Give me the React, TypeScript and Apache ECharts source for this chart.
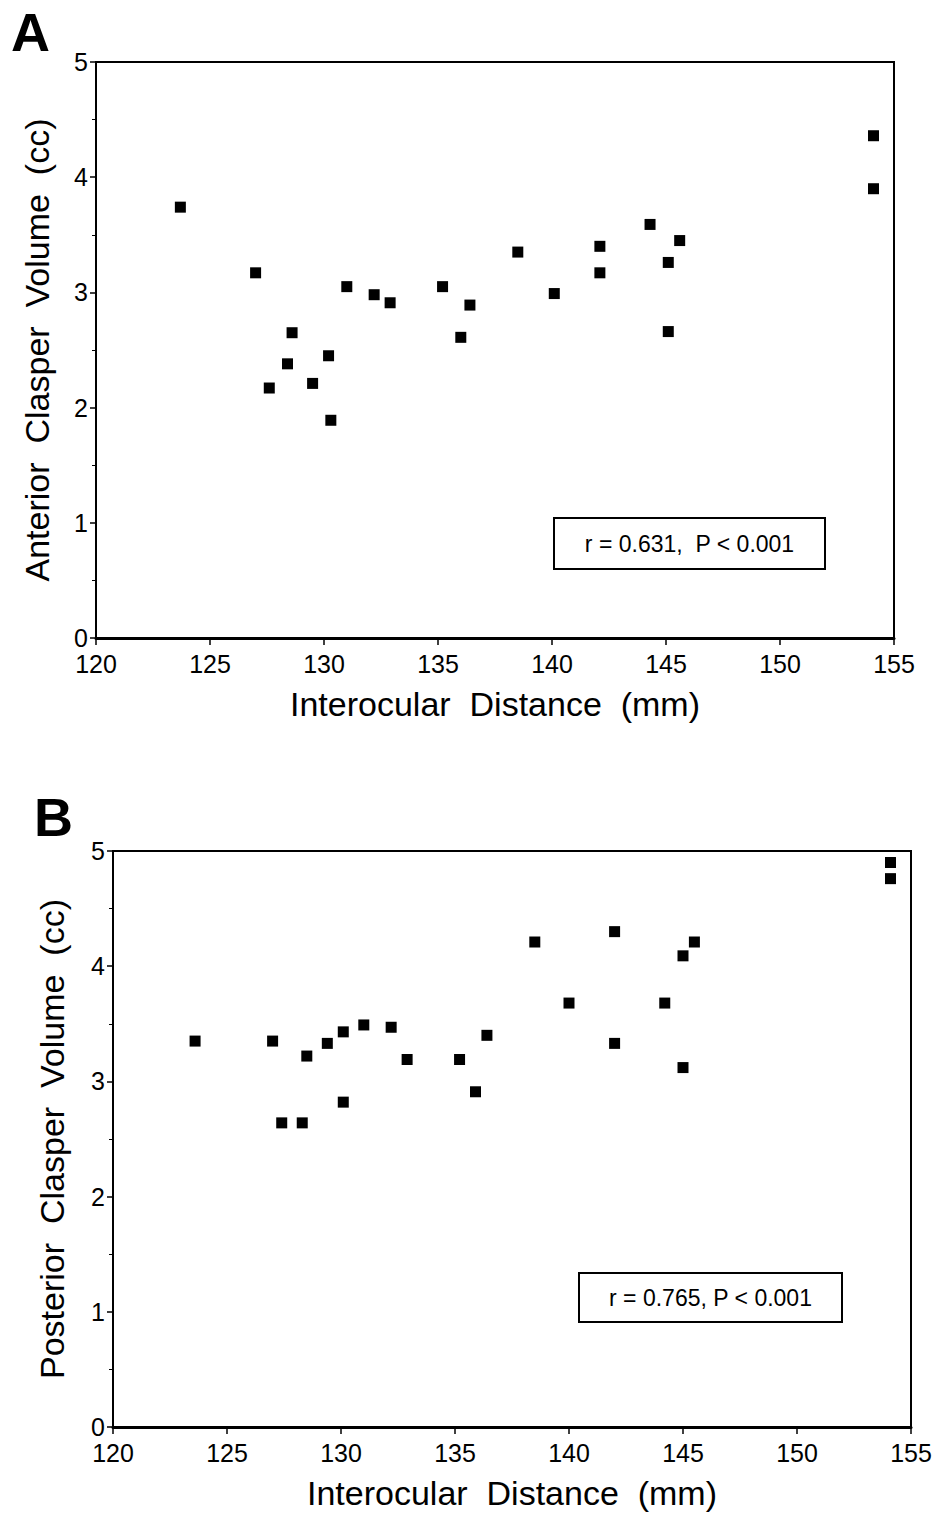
import React, { useEffect, useRef } from "react";
import * as echarts from "echarts";

const xTicks = [120, 125, 130, 135, 140, 145, 150, 155];
const yTicks = [0, 1, 2, 3, 4, 5];

const distA = [123.7, 127.0, 127.6, 128.4, 128.6, 129.5, 130.2, 130.3, 131.0, 132.2, 132.9, 135.2, 136.0, 136.4, 138.5, 140.1, 142.1, 142.1, 144.3, 145.1, 145.1, 145.6, 154.1, 154.1];
const volA = [3.74, 3.17, 2.17, 2.38, 2.65, 2.21, 2.45, 1.89, 3.05, 2.98, 2.91, 3.05, 2.61, 2.89, 3.35, 2.99, 3.40, 3.17, 3.59, 3.26, 2.66, 3.45, 4.36, 3.90];

const distB = [123.6, 127.0, 127.4, 128.3, 128.5, 129.4, 130.1, 130.1, 131.0, 132.2, 132.9, 135.2, 135.9, 136.4, 138.5, 140.0, 142.0, 142.0, 144.2, 145.0, 145.0, 145.5, 154.1, 154.1];
const volB = [3.35, 3.35, 2.64, 2.64, 3.22, 3.33, 3.43, 2.82, 3.49, 3.47, 3.19, 3.19, 2.91, 3.40, 4.21, 3.68, 4.30, 3.33, 3.68, 4.09, 3.12, 4.21, 4.90, 4.76];

const xName = "Interocular  Distance  (mm)";
const yNameA = "Anterior  Clasper  Volume  (cc)";
const yNameB = "Posterior  Clasper  Volume  (cc)";
const statA = "r = 0.631,  P < 0.001";
const statB = "r = 0.765, P < 0.001";

const FONT = "'Liberation Sans', Arial, Helvetica, sans-serif";

function xAxisCfg(gridIndex: number) {
  return {
    type: "value",
    gridIndex,
    min: xTicks[0],
    max: xTicks[xTicks.length - 1],
    interval: 5,
    name: xName,
    nameLocation: "middle",
    nameGap: 49,
    nameTextStyle: { fontFamily: FONT, fontSize: 34, color: "#000" },
    axisLine: { show: true, onZero: false, lineStyle: { color: "#000", width: 3 } },
    axisTick: { show: true, inside: false, length: 7, lineStyle: { color: "#000", width: 1.5 } },
    axisLabel: { fontFamily: FONT, fontSize: 25, color: "#000", margin: 13, lineHeight: 25 },
    splitLine: { show: false },
  };
}

function yAxisCfg(gridIndex: number, name: string, gap: number) {
  return {
    type: "value",
    gridIndex,
    min: yTicks[0],
    max: yTicks[yTicks.length - 1],
    interval: 1,
    name,
    nameLocation: "middle",
    nameGap: gap,
    nameTextStyle: { fontFamily: FONT, fontSize: 34, color: "#000" },
    axisLine: { show: true, onZero: false, lineStyle: { color: "#000", width: 2 } },
    axisTick: { show: true, inside: false, length: 6, lineStyle: { color: "#000", width: 1.5 } },
    minorTick: { show: true, splitNumber: 2, length: 4, lineStyle: { color: "#000", width: 1 } },
    axisLabel: { fontFamily: FONT, fontSize: 25, color: "#000", margin: 8, lineHeight: 22 },
    splitLine: { show: false },
    minorSplitLine: { show: false },
  };
}

function pts(xs: number[], ys: number[]) {
  return xs.map((x, i) => [x, ys[i]]);
}

export default function App() {
  const ref = useRef<HTMLDivElement>(null);
  useEffect(() => {
    document.body.style.margin = "0";
    const chart = echarts.init(ref.current!, null, { renderer: "svg" });
    chart.setOption({
      animation: false,
      backgroundColor: "#fff",
      grid: [
        { left: 96, top: 62, width: 798, height: 576, show: true, borderColor: "#000", borderWidth: 2, backgroundColor: "transparent" },
        { left: 113, top: 851, width: 798, height: 576, show: true, borderColor: "#000", borderWidth: 2, backgroundColor: "transparent" },
      ],
      xAxis: [xAxisCfg(0), xAxisCfg(1)],
      yAxis: [yAxisCfg(0, yNameA, 42), yAxisCfg(1, yNameB, 44)],
      series: [
        {
          type: "scatter",
          xAxisIndex: 0,
          yAxisIndex: 0,
          symbol: "rect",
          symbolSize: 11,
          itemStyle: { color: "#000", opacity: 1 },
          data: pts(distA, volA),
        },
        {
          type: "scatter",
          xAxisIndex: 1,
          yAxisIndex: 1,
          symbol: "rect",
          symbolSize: 11,
          itemStyle: { color: "#000", opacity: 1 },
          data: pts(distB, volB),
        },
      ],
      graphic: [
        {
          type: "text",
          left: 11,
          top: 5,
          style: { text: "A", fontFamily: FONT, fontSize: 54, fontWeight: "bold", fill: "#000" },
        },
        {
          type: "text",
          left: 34,
          top: 790,
          style: { text: "B", fontFamily: FONT, fontSize: 54, fontWeight: "bold", fill: "#000" },
        },
        {
          type: "rect",
          shape: { x: 554, y: 518, width: 271, height: 51 },
          style: { fill: "#fff", stroke: "#000", lineWidth: 2 },
        },
        {
          type: "text",
          x: 689.5,
          y: 544,
          style: { text: statA, fontFamily: FONT, fontSize: 23, fill: "#000", align: "center", verticalAlign: "middle" },
        },
        {
          type: "rect",
          shape: { x: 579, y: 1273, width: 263, height: 49 },
          style: { fill: "#fff", stroke: "#000", lineWidth: 2 },
        },
        {
          type: "text",
          x: 710.5,
          y: 1298,
          style: { text: statB, fontFamily: FONT, fontSize: 23, fill: "#000", align: "center", verticalAlign: "middle" },
        },
      ],
    });
    return () => chart.dispose();
  }, []);
  return <div ref={ref} style={{ width: 937, height: 1514 }} />;
}
